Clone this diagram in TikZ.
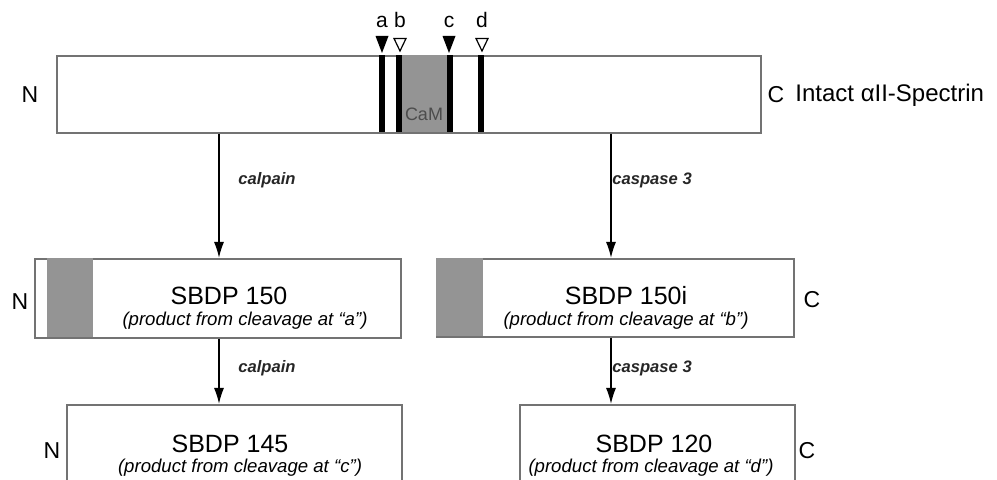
\documentclass[tikz,border=0pt]{standalone}
\usepackage{fontspec}
\setmainfont{Liberation Sans}
\usetikzlibrary{arrows.meta}
\begin{document}
\begin{tikzpicture}[x=0.5pt,y=-0.5pt,
  box/.style={draw=black!55, line width=0.8pt, fill=white, inner sep=0pt, anchor=north west},
  shadebox/.style={fill=black!42},
  barbox/.style={fill=black},
  arr/.style={-{Latex[length=8pt,width=5pt]}, line width=0.7pt},
  title/.style={font=\fontsize{12.5}{14}\selectfont, inner sep=0pt},
  sub/.style={font=\fontsize{9.3}{11}\selectfont\itshape, inner sep=0pt},
  enz/.style={font=\fontsize{8.3}{10}\selectfont\bfseries\itshape, text=black!85, inner sep=0pt, anchor=west},
  term/.style={font=\fontsize{11.5}{13}\selectfont, inner sep=0pt},
  site/.style={font=\fontsize{10.5}{12}\selectfont, inner sep=0pt, anchor=base},
  fulltri/.style={fill=black},
  opentri/.style={draw=black, line width=0.6pt, fill=white}
]
\useasboundingbox (0,0) rectangle (997,480);
\clip (0,0) rectangle (997,480);

% ---- intact spectrin
\node[box, minimum width=352pt, minimum height=38.5pt] (top) at (56,55) {};
\fill[shadebox] (402,55) rectangle (447,132);
\node[font=\fontsize{9}{10}\selectfont, text=black!70, inner sep=0pt] (cam) at (424,114) {CaM};
\fill[barbox] (379,55) rectangle (385,132);
\fill[barbox] (396,55) rectangle (402,132);
\fill[barbox] (447,55) rectangle (453,132);
\fill[barbox] (478,55) rectangle (484,132);

% cleavage sites
\node[site] (sa) at (382,28) {a};
\node[site] (sb) at (400,28) {b};
\node[site] (sc) at (449,28) {c};
\node[site] (sd) at (482,28) {d};
\fill[fulltri] (375.5,36) -- (388.5,36) -- (382,53) -- cycle;
\draw[opentri] (394,38.5) -- (406,38.5) -- (400,51) -- cycle;
\fill[fulltri] (442.5,36) -- (455.5,36) -- (449,53) -- cycle;
\draw[opentri] (476,38.5) -- (488,38.5) -- (482,51) -- cycle;

\node[term] (n1) at (30,95) {N};
\node[term] (c1) at (776,95) {C};
\node[term, anchor=west, font=\fontsize{12}{14}\selectfont] (intact) at (795,95) {Intact αII-Spectrin};

% ---- second row
\node[box, minimum width=183pt, minimum height=39.5pt] (ml) at (34,258) {};
\fill[shadebox] (47,258) rectangle (93,337);
\node[title] (t150) at (229,296) {SBDP 150};
\node[sub] (s150) at (245,321) {(product from cleavage at “a”)};
\node[term] (n2) at (20,302) {N};

\node[box, minimum width=178.5pt, minimum height=39pt] (mr) at (436,258) {};
\fill[shadebox] (436,258) rectangle (483,336);
\node[title] (t150i) at (626,296) {SBDP 150i};
\node[sub] (s150i) at (626,321) {(product from cleavage at “b”)};
\node[term] (c2) at (812,300) {C};

% ---- third row
\node[box, minimum width=167.5pt, minimum height=60pt] (bl) at (66,404) {};
\node[title] (t145) at (230,444) {SBDP 145};
\node[sub] (s145) at (240,468) {(product from cleavage at “c”)};
\node[term] (n3) at (52,451) {N};

\node[box, minimum width=137.5pt, minimum height=60pt] (br) at (519,404) {};
\node[title] (t120) at (654,444) {SBDP 120};
\node[sub] (s120) at (651,468) {(product from cleavage at “d”)};
\node[term] (c3) at (807,451) {C};

% ---- arrows
\coordinate (la) at (219,0);
\coordinate (ra) at (611,0);
\draw[arr] (top.south -| la) -- (ml.north -| la);
\draw[arr] (top.south -| ra) -- (mr.north -| ra);
\draw[arr] (ml.south -| la) -- (bl.north -| la);
\draw[arr] (mr.south -| ra) -- (br.north -| ra);

\node[enz] (e1) at (238,180) {calpain};
\node[enz] (e2) at (612,180) {caspase 3};
\node[enz] (e3) at (238,368) {calpain};
\node[enz] (e4) at (612,368) {caspase 3};
\end{tikzpicture}
\end{document}
